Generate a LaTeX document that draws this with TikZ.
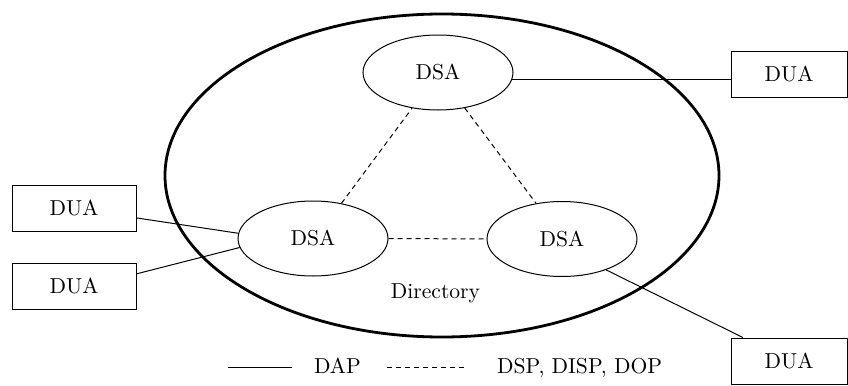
\documentclass[tikz,border=0pt]{standalone}
\usepackage{tikz}
\usetikzlibrary{shapes.geometric,positioning}

\begin{document}
\begin{tikzpicture}[
  x=0.5pt, y=-0.5pt,
  font=\fontsize{10.8}{13}\selectfont,
  node distance=15.5pt,
  box/.style ={draw, line width=0.5pt, inner sep=0pt, minimum width=62pt, minimum height=23pt},
  dsa/.style ={draw, ellipse, line width=0.5pt, inner sep=0pt, minimum width=75pt, minimum height=37.5pt},
  dap/.style ={line width=0.5pt},
  dsp/.style ={line width=0.5pt, dash pattern=on 2.5pt off 2pt}
]
\useasboundingbox (0,0) rectangle (848,386);

% the directory
\node[draw, ellipse, line width=1.4pt, inner sep=0pt,
      minimum width=277pt, minimum height=161.5pt] (dir) at (442,175.5) {};
\node (dirlabel) at (435.5,293) {Directory};

\node[dsa] (dsatop)   at (438,72.5) {DSA};
\node[dsa] (dsaleft)  at (313,238.5) {DSA};
\node[dsa] (dsaright) at (562,239) {DSA};

% user agents
\node[box] (dual1) at (74,208) {DUA};
\node[box] (dual2) [below=of dual1] {DUA};
\node[box, minimum width=58pt] (duatr) at (789,74.5) {DUA};
\node[box, minimum width=58pt] (duabr) at (789,361) {DUA};

\draw[dap] (dsatop.-5) -- (dsatop.-5 -| duatr.west);
\draw[dap] (dual1.-9) -- (dsaleft.176);
\draw[dap] (dual2.11) -- (dsaleft.187);
\draw[dap] (dsaright.-35) -- (duabr.153);

\draw[dsp] (dsaleft.51) -- (dsatop.234);
\draw[dsp] (dsatop.307) -- (dsaright.126);
\draw[dsp] (dsaleft.east) -- (dsaright.west);

% legend
\coordinate (dapstart) at (228,367);
\coordinate (dspstart) at (387,367);
\node[anchor=base west] (dapkey) at (307,373) {DAP};
\node[anchor=base west] (dspkey) at (490,373) {DSP, DISP, DOP};
\draw[dap] (dapstart) -- ++(64,0);
\draw[dsp] (dspstart) -- ++(80,0);
\end{tikzpicture}
\end{document}
